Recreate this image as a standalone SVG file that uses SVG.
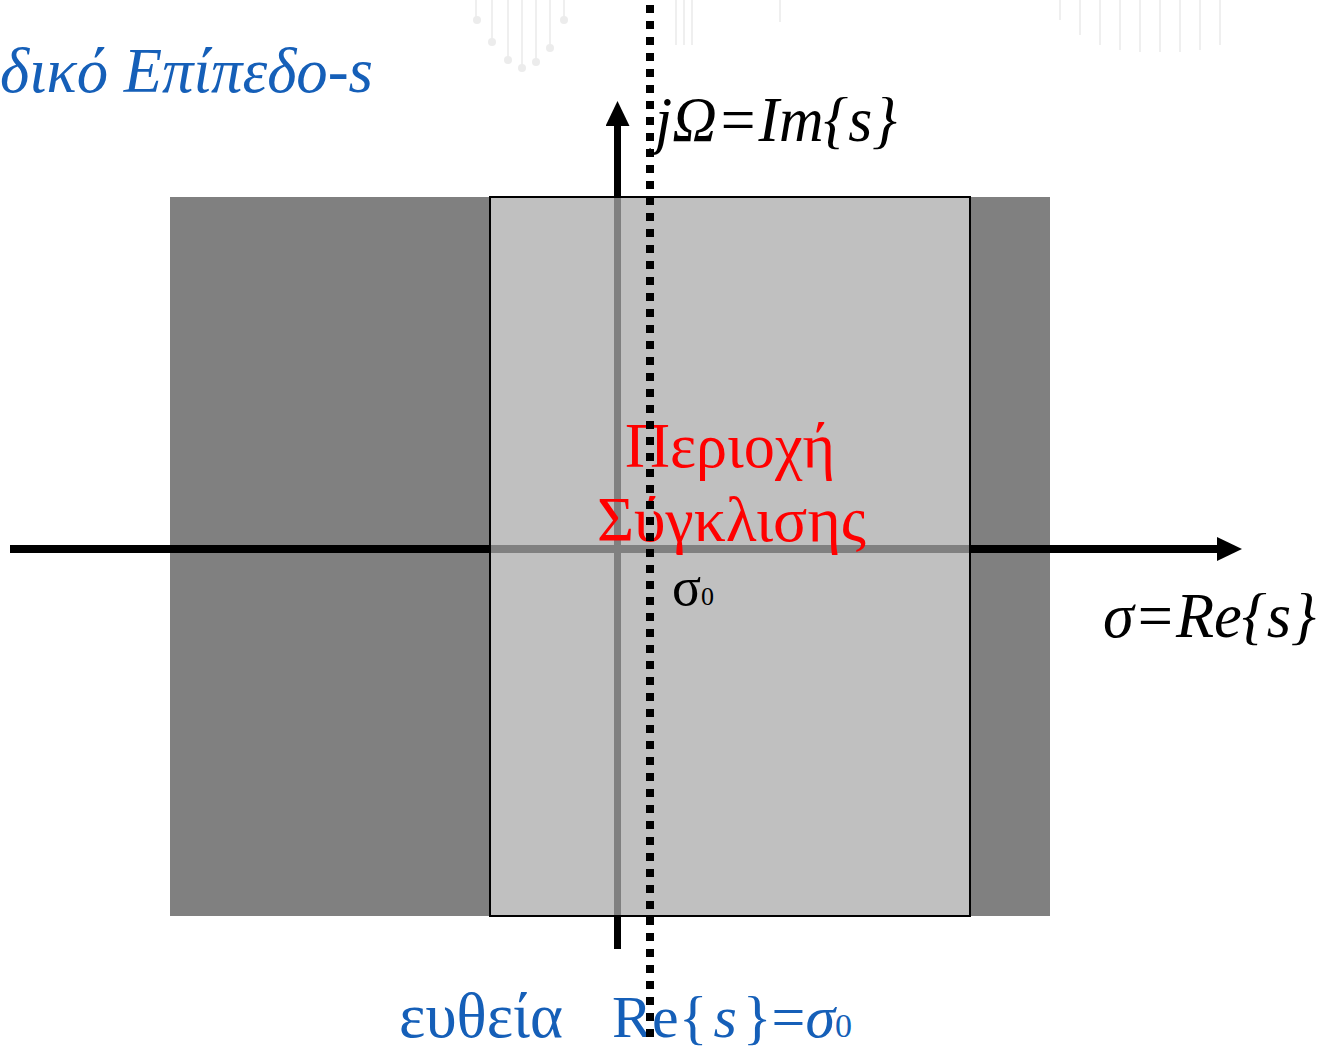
<svg xmlns="http://www.w3.org/2000/svg" width="1323" height="1051" viewBox="0 0 1323 1051">
<style>
.ser{font-family:"Liberation Serif","Times New Roman",serif}
.it{font-style:italic}
.blue{fill:#155fb8}
.blk{fill:#000}
.red{fill:#ff0000}
.faint{stroke:#efefef;stroke-width:2;fill:none}
.ball{fill:#ececec}
</style>
<defs>
<marker id="ah" viewBox="0 0 25 24" refX="0" refY="12" markerWidth="25" markerHeight="24" markerUnits="userSpaceOnUse" orient="auto">
<path d="M0,0 L25,12 L0,24 Z" fill="#000"/>
</marker>
</defs>
<rect width="1323" height="1051" fill="#fff"/>
<g id="watermark">
<path class="faint" d="M476,0V20M492,0V42M508,0V60M522,0V68M536,0V62M550,0V50M564,0V20M676,0V45M684,0V45M692,0V45M780,0V22M1060,0V20M1080,0V35M1100,0V45M1120,0V50M1140,0V52M1160,0V52M1180,0V52M1200,0V50M1220,0V45"/>
<circle class="ball" cx="477" cy="20" r="4"/><circle class="ball" cx="492" cy="42" r="4"/><circle class="ball" cx="508" cy="60" r="4"/><circle class="ball" cx="522" cy="68" r="4"/><circle class="ball" cx="536" cy="62" r="4"/><circle class="ball" cx="550" cy="48" r="4"/><circle class="ball" cx="564" cy="20" r="4"/>
</g>
<g id="regions">
<rect id="outer" x="170" y="197" width="880" height="719" fill="#808080"/>
</g>
<g id="connectors">
<line x1="10" y1="549" x2="1217" y2="549" stroke="#000" stroke-width="8" marker-end="url(#ah)"/>
<line x1="617.5" y1="949" x2="617.5" y2="126" stroke="#000" stroke-width="7" marker-end="url(#ah)"/>
</g>
<g id="roc">
<rect x="490" y="197" width="480" height="719" fill="#fff" fill-opacity="0.5" stroke="#000" stroke-width="2"/>
</g>
<g id="labels">
<text class="ser it blue" x="0" y="92" font-size="63" textLength="373" lengthAdjust="spacingAndGlyphs">δικό Επίπεδο-s</text>
<text class="ser it blk" x="655" y="141" font-size="63" textLength="242" lengthAdjust="spacingAndGlyphs">jΩ=Im{s}</text>
<text class="ser it blk" x="1103" y="637" font-size="63" textLength="213" lengthAdjust="spacingAndGlyphs">σ=Re{s}</text>
<text class="ser red" x="625" y="467" font-size="63" textLength="210" lengthAdjust="spacingAndGlyphs">Περιοχή</text>
<text class="ser red" x="597" y="541" font-size="63" textLength="269" lengthAdjust="spacingAndGlyphs">Σύγκλισης</text>
<text class="ser blk" x="672" y="605" font-size="54">σ<tspan font-size="26">0</tspan></text>
<text class="ser blue" x="399" y="1037" font-size="63" textLength="164" lengthAdjust="spacingAndGlyphs">ευθεία</text>
<text class="ser blue" x="612" y="1037" font-size="60">Re{<tspan class="it" dx="6">s</tspan><tspan dx="6">}=</tspan><tspan class="it">σ</tspan><tspan font-size="34">0</tspan></text>
</g>
<g id="line-re-s">
<line x1="650" y1="5" x2="650" y2="1037" stroke="#000" stroke-width="8" stroke-dasharray="8 8"/>
</g>
</svg>
